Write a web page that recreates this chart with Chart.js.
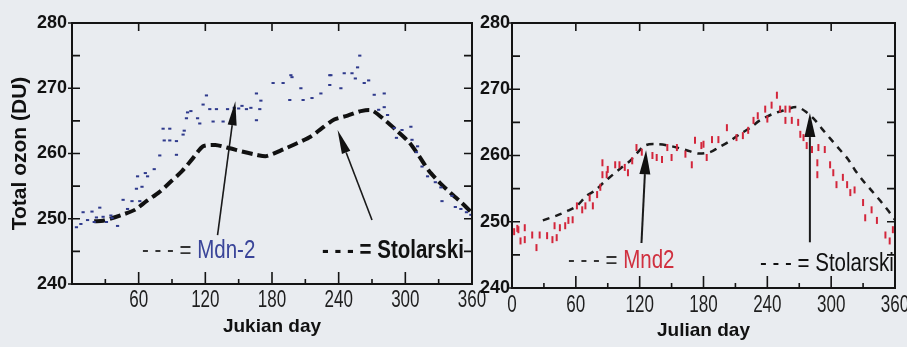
<!DOCTYPE html>
<html>
<head>
<meta charset="utf-8">
<script src="https://cdn.jsdelivr.net/npm/chart.js@4.4.1/dist/chart.umd.min.js"></script>
<style>
  html, body { margin: 0; padding: 0; background: #e9ecf0; }
  #wrap { position: relative; width: 907px; height: 347px; overflow: hidden; }
  canvas { position: absolute; top: 0; }
</style>
</head>
<body>
<div id="wrap">
  <canvas id="leftPanel" width="490" height="347" style="left:0"></canvas>
  <canvas id="rightPanel" width="437" height="347" style="left:470px"></canvas>
</div>
<script>
// ---- axis ticks ----
const dayTicks = [0, 60, 120, 180, 240, 300, 360];
const dayMinorTicks = [30, 90, 150, 210, 270, 330];
const ozoneTicks = [240, 250, 260, 270, 280];
const ozoneMinorTicks = [245, 255, 265, 275];

// ---- left panel: Mdn-2 daily total ozone ----
const mdnDays = [4, 8, 10, 14, 18, 20, 22, 25, 28, 31, 35, 36, 41, 46, 50, 54, 58, 59, 61, 63, 66, 68, 74, 79,
  82, 83, 88, 88, 94, 94, 100, 101, 103, 104, 107, 113, 115, 118, 121, 124, 127, 130, 136, 140, 146, 150,
  153, 157, 161, 166, 166, 169, 170, 181, 190, 196, 197, 198, 206, 208, 216, 224, 232, 232, 233, 242, 245,
  252, 255, 257, 259, 263, 267, 272, 276, 281, 281, 284, 290, 292, 297, 305, 306, 310, 311, 315, 320, 327,
  332, 333, 342, 345, 350, 355, 359];
const mdnOzone = [248.7, 249.2, 251.0, 249.8, 251.1, 249.5, 250.2, 251.7, 250.3, 249.5, 250.5, 250.1, 248.9,
  252.9, 251.5, 252.7, 254.6, 256.5, 252.7, 254.9, 257.0, 256.5, 257.6, 259.7,
  263.8, 262.0, 262.0, 263.8, 261.9, 259.8, 262.9, 263.5, 265.4, 266.3, 266.5, 265.4, 264.6, 267.5, 268.9,
  266.8, 264.9, 266.8, 264.9, 266.8, 267.0, 266.9,
  267.3, 266.8, 267.0, 269.2, 265.1, 266.8, 268.1, 270.8, 270.8, 268.2, 272.0, 271.7, 270.0, 268.2, 268.5,
  269.2, 270.5, 272.0, 272.0, 270.0, 272.3,
  272.3, 271.5, 273.2, 275.0, 270.8, 271.2, 269.0, 266.7, 269.2, 267.1, 265.9, 263.9, 262.4, 263.6, 264.1,
  262.1, 260.2, 261.1, 258.0, 256.5, 255.6,
  254.8, 252.7, 253.5, 251.8, 251.5, 251.0, 250.6];

// ---- left panel: Stolarski climatology ----
const stolLeftDays = [20, 28, 45, 57, 67, 78, 89, 99, 108, 118, 129, 142, 153, 166, 175, 191, 203, 215, 225,
  236, 248, 260, 270, 283, 293, 303, 312, 321, 330, 341, 351, 360];
const stolLeftOzone = [249.6, 249.7, 250.6, 251.4, 252.7, 254.0, 255.7, 257.3, 259.1, 261.1, 261.3, 260.8,
  260.3, 259.8, 259.6, 260.7, 261.6, 262.6, 263.9, 265.2, 265.8, 266.5, 266.6, 264.9, 263.4, 261.8, 259.7,
  257.4, 255.7, 253.9, 252.4, 250.9];

// ---- right panel: Mnd2 daily total ozone ----
const mndDays = [2, 5, 6, 8, 12, 12, 19, 23, 26, 33, 38, 40, 42, 45, 50, 53, 57, 61, 66, 69, 73, 76, 80, 83,
  85, 85, 89, 90, 97, 101, 106, 109, 113, 117, 122, 132, 136, 141, 146, 150, 155, 163, 169, 172, 178, 180,
  183, 188, 194, 202, 211, 217, 222, 227, 231, 238, 240, 244, 249, 252, 257, 257, 261, 263, 269, 271, 274,
  277, 282, 287, 287, 288, 294, 299, 302, 305, 311, 315, 318, 322, 330, 332, 338, 343, 351, 355, 358, 360];
const mndOzone = [248.5, 249.0, 248.8, 247.1, 249.1, 247.3, 248.0, 246.1, 248.0, 247.9, 247.3, 249.4, 247.6,
  249.1, 249.4, 250.2, 250.3, 252.4, 251.8, 252.4, 253.6, 252.4, 254.1, 255.2,
  257.1, 258.9, 257.1, 257.9, 258.6, 258.6, 258.2, 257.4, 259.2, 261.2, 260.5, 260.0, 259.7, 259.4, 261.2,
  259.7, 261.2, 260.2, 258.6, 262.3, 261.5, 261.7,
  259.7, 262.4, 262.4, 264.2, 262.7, 263.0, 263.8, 265.3, 266.0, 267.0, 265.5, 267.6, 269.1, 267.0, 267.0,
  265.3, 267.0, 265.3, 265.0, 263.2, 262.7,
  261.5, 260.9, 258.9, 257.1, 261.2, 260.9, 258.6, 257.4, 255.6, 256.7, 255.6, 254.4, 254.8, 252.9, 250.6,
  251.8, 250.2, 248.0, 247.1, 248.8, 247.3];

// ---- right panel: Stolarski climatology ----
const stolRightDays = [29, 43, 53, 61, 70, 78, 86, 94, 103, 111, 125, 137, 150, 164, 175, 186, 194, 203, 214,
  224, 233, 244, 255, 268, 277, 285, 292, 300, 308, 316, 322, 330, 338, 346, 353, 360];
const stolRightOzone = [250.2, 251.0, 251.7, 252.4, 253.9, 254.7, 255.9, 257.0, 258.2, 259.2, 261.5, 261.7,
  261.4, 260.8, 260.3, 260.5, 261.2, 262.0, 263.2, 264.2, 265.3, 266.2, 266.8, 267.3, 266.5, 265.3, 263.9,
  262.4, 260.9, 259.4, 257.9, 256.2, 254.7, 253.2, 251.8, 250.3];

// ---- annotation arrows: [day, ozone] tail -> head ----
const leftArrowTails = [[131, 247.5], [270, 249.8]];
const leftArrowHeads = [[147, 268.0], [239, 263.6]];
const rightArrowTails = [[121.7, 246.8], [280, 246.9]];
const rightArrowHeads = [[126, 260.8], [280, 266.4]];

const toPoints = (xs, ys) => xs.map((d, i) => ({ x: d, y: ys[i] }));

const SANS = "'Liberation Sans', Arial, sans-serif";

// Draw text squeezed horizontally (narrow typeface look).
function narrowText(ctx, text, x, y, squeeze) {
  ctx.save();
  ctx.translate(x, y);
  ctx.scale(squeeze, 1);
  ctx.fillText(text, 0, 0);
  ctx.restore();
}

// Box frame with inward tick marks and narrow day labels.
const frameTicks = {
  id: 'frameTicks',
  afterDatasetsDraw(chart, args, opts) {
    const { ctx, chartArea: a, scales: { x, y } } = chart;
    ctx.save();
    ctx.strokeStyle = '#141414';
    ctx.lineWidth = 2;
    ctx.strokeRect(a.left, a.top, a.right - a.left, a.bottom - a.top);
    ctx.lineWidth = 1.6;
    ctx.beginPath();
    dayTicks.forEach(d => {
      const px = x.getPixelForValue(d);
      ctx.moveTo(px, a.bottom); ctx.lineTo(px, a.bottom - 12);
      ctx.moveTo(px, a.top); ctx.lineTo(px, a.top + 8);
    });
    dayMinorTicks.forEach(d => {
      const px = x.getPixelForValue(d);
      ctx.moveTo(px, a.bottom); ctx.lineTo(px, a.bottom - 5);
    });
    ozoneTicks.concat(ozoneMinorTicks).forEach(v => {
      const py = y.getPixelForValue(v);
      ctx.moveTo(a.left, py); ctx.lineTo(a.left + 8, py);
      ctx.moveTo(a.right, py); ctx.lineTo(a.right - 8, py);
    });
    ozoneTicks.forEach(v => {
      const py = y.getPixelForValue(v);
      ctx.moveTo(a.left - 4, py); ctx.lineTo(a.left, py);
    });
    ctx.stroke();

    // day-of-year labels under the axis
    ctx.fillStyle = '#1e1e1e';
    ctx.font = `23px ${SANS}`;
    ctx.textAlign = 'center';
    ctx.textBaseline = 'alphabetic';
    dayTicks.forEach(d => {
      if (opts.hideZero && d === 0) return;
      narrowText(ctx, String(d), x.getPixelForValue(d), a.bottom + opts.labelDrop, 0.74);
    });
    ctx.restore();
  }
};

// Pointer arrows and in-plot legend labels.
const annotations = {
  id: 'annotations',
  afterDraw(chart, args, opts) {
    const { ctx, scales: { x, y } } = chart;
    ctx.save();
    ctx.strokeStyle = '#1a1a1a';
    ctx.fillStyle = '#111';
    opts.tails.forEach((t, i) => {
      const h = opts.heads[i];
      const x0 = x.getPixelForValue(t[0]), y0 = y.getPixelForValue(t[1]);
      const x1 = x.getPixelForValue(h[0]), y1 = y.getPixelForValue(h[1]);
      const ang = Math.atan2(y1 - y0, x1 - x0);
      const L = opts.headLen, W = opts.headWidth / 2;
      const bx = x1 - L * Math.cos(ang), by = y1 - L * Math.sin(ang);
      ctx.lineWidth = opts.shaftWidth;
      ctx.beginPath(); ctx.moveTo(x0, y0); ctx.lineTo(bx, by); ctx.stroke();
      ctx.beginPath();
      ctx.moveTo(x1, y1);
      ctx.lineTo(bx + W * Math.sin(ang), by - W * Math.cos(ang));
      ctx.lineTo(bx - W * Math.sin(ang), by + W * Math.cos(ang));
      ctx.closePath(); ctx.fill();
    });
    const squeeze = 0.82;
    opts.legend.forEach(item => {
      ctx.textBaseline = 'alphabetic';
      ctx.textAlign = 'left';
      ctx.font = item.font;
      ctx.fillStyle = item.prefixColor;
      narrowText(ctx, item.prefix, item.x, item.y, squeeze);
      const w = ctx.measureText(item.prefix + ' ').width * squeeze;
      ctx.fillStyle = item.color;
      narrowText(ctx, item.label, item.x + w, item.y, squeeze);
    });
    ctx.restore();
  }
};

function makeScales(cfg) {
  return {
    x: {
      type: 'linear', min: 0, max: 360,
      afterBuildTicks: s => { s.ticks = dayTicks.map(v => ({ value: v })); },
      afterFit: s => { s.height = cfg.xHeight; s.paddingLeft = 0; s.paddingRight = 0; },
      grid: { display: false, drawTicks: false },
      border: { display: false },
      ticks: { display: false },
      title: {
        display: true, text: cfg.xTitle, color: '#111',
        font: { family: SANS, size: 19, weight: 'bold' },
        padding: { top: 0, bottom: cfg.xTitlePad }
      }
    },
    y: {
      type: 'linear', min: 240, max: 280,
      afterBuildTicks: s => { s.ticks = ozoneTicks.map(v => ({ value: v })); },
      afterFit: s => { s.width = cfg.yWidth; s.paddingTop = 0; s.paddingBottom = 0; },
      grid: { display: false, drawTicks: false },
      border: { display: false },
      ticks: {
        padding: cfg.yPad, color: '#111',
        font: { family: SANS, size: 18, weight: 'bold' }
      },
      title: cfg.yTitle ? {
        display: true, text: cfg.yTitle, color: '#111',
        font: { family: SANS, size: 21, weight: 'bold' },
        padding: { top: 8, bottom: 0 }
      } : { display: false }
    }
  };
}

new Chart(document.getElementById('leftPanel'), {
  type: 'line',
  data: {
    datasets: [
      {
        label: 'Mdn-2', data: toPoints(mdnDays, mdnOzone), showLine: false,
        pointStyle: 'line', pointRadius: 1.6, pointBorderWidth: 2,
        borderColor: '#2f3a8c', backgroundColor: '#2f3a8c'
      },
      {
        label: 'Stolarski', data: toPoints(stolLeftDays, stolLeftOzone),
        borderColor: '#111', borderWidth: 4, borderDash: [11, 5], pointRadius: 0,
        tension: 0.25, fill: false
      }
    ]
  },
  options: {
    responsive: false, animation: false, devicePixelRatio: 1,
    layout: { padding: { top: 23, right: 18, left: 0, bottom: 0 } },
    plugins: {
      legend: { display: false }, tooltip: { enabled: false },
      frameTicks: { hideZero: true, labelDrop: 23 },
      annotations: {
        tails: leftArrowTails, heads: leftArrowHeads,
        headLen: 24, headWidth: 9, shaftWidth: 1.6,
        legend: [
          { x: 142, y: 258, prefix: '- - - =', label: 'Mdn-2', prefixColor: '#333',
            color: '#3a4599', font: `25px ${SANS}` },
          { x: 322, y: 258, prefix: '- - - =', label: 'Stolarski', prefixColor: '#111',
            color: '#111', font: `bold 25px ${SANS}` }
        ]
      }
    },
    scales: makeScales({
      xHeight: 63, xTitle: 'Jukian day', xTitlePad: 9,
      yWidth: 72, yPad: 5, yTitle: 'Total ozon (DU)'
    })
  },
  plugins: [frameTicks, annotations]
});

new Chart(document.getElementById('rightPanel'), {
  type: 'line',
  data: {
    datasets: [
      {
        label: 'Mnd2', data: toPoints(mndDays, mndOzone), showLine: false,
        pointStyle: 'line', rotation: 90, pointRadius: 3.5, pointBorderWidth: 2,
        borderColor: '#d3263b', backgroundColor: '#d3263b'
      },
      {
        label: 'Stolarski', data: toPoints(stolRightDays, stolRightOzone),
        borderColor: '#1b1b1b', borderWidth: 2.5, borderDash: [7, 6], pointRadius: 0,
        tension: 0.3, fill: false
      }
    ]
  },
  options: {
    responsive: false, animation: false, devicePixelRatio: 1,
    layout: { padding: { top: 23, right: 12, left: 0, bottom: 0 } },
    plugins: {
      legend: { display: false }, tooltip: { enabled: false },
      frameTicks: { hideZero: false, labelDrop: 24 },
      annotations: {
        tails: rightArrowTails, heads: rightArrowHeads,
        headLen: 24, headWidth: 11, shaftWidth: 2,
        legend: [
          { x: 98, y: 268, prefix: '- - - =', label: 'Mnd2', prefixColor: '#333',
            color: '#d0303f', font: `25px ${SANS}` },
          { x: 290, y: 271, prefix: '- - - =', label: 'Stolarski', prefixColor: '#111',
            color: '#111', font: `25px ${SANS}` }
        ]
      }
    },
    scales: makeScales({
      xHeight: 59, xTitle: 'Julian day', xTitlePad: 5,
      yWidth: 42, yPad: 2, yTitle: null
    })
  },
  plugins: [frameTicks, annotations]
});
</script>
</body>
</html>
